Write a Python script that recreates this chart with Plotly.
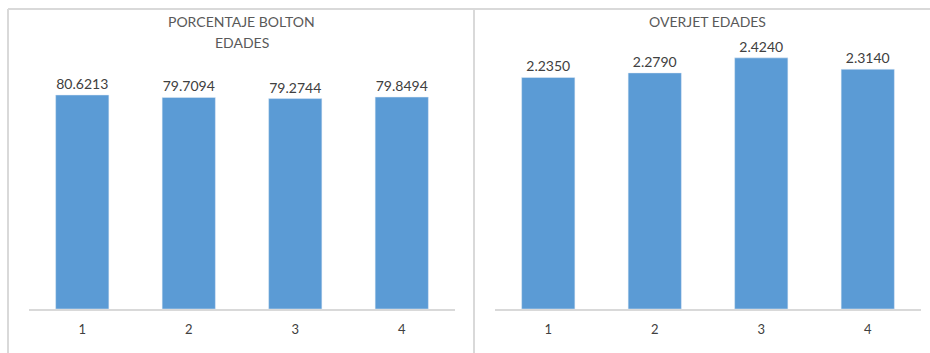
import plotly.graph_objects as go

categories = ["1", "2", "3", "4"]
bolton_values = [80.6213, 79.7094, 79.2744, 79.8494]
overjet_values = [2.2350, 2.2790, 2.4240, 2.3140]
bolton_labels = ["80.6213", "79.7094", "79.2744", "79.8494"]
overjet_labels = ["2.2350", "2.2790", "2.4240", "2.3140"]
title_left = ["PORCENTAJE BOLTON", "EDADES"]
title_right = "OVERJET EDADES"

W, H = 930, 353
BAR = "#5B9BD5"
GRID = "#d9d9d9"
FONT = "Lato"

def px(x):
    return x / W

def py(y):
    return 1 - y / H

fig = go.Figure()
fig.add_trace(go.Bar(x=categories, y=bolton_values, text=bolton_labels,
                     textposition="outside", cliponaxis=False,
                     textfont=dict(size=14, color="#404040", family=FONT),
                     marker=dict(color=BAR), xaxis="x", yaxis="y",
                     hoverinfo="skip"))
fig.add_trace(go.Bar(x=categories, y=overjet_values, text=overjet_labels,
                     textposition="outside", cliponaxis=False,
                     textfont=dict(size=14, color="#404040", family=FONT),
                     marker=dict(color=BAR), xaxis="x2", yaxis="y2",
                     hoverinfo="skip"))

ydom = [py(309), py(50)]
xcommon = dict(type="category", showgrid=False, zeroline=False,
               showline=True, linecolor=GRID, linewidth=1.5,
               ticks="outside", ticklen=8, tickcolor="rgba(0,0,0,0)",
               tickfont=dict(size=13, color="#404040", family=FONT))
ycommon = dict(visible=False, showgrid=False, zeroline=False)

fig.update_layout(
    width=W, height=H,
    margin=dict(l=0, r=0, t=0, b=0),
    paper_bgcolor="white", plot_bgcolor="white",
    showlegend=False, bargap=0.5,
    xaxis=dict(domain=[px(29), px(455)], anchor="y", **xcommon),
    yaxis=dict(domain=ydom, range=[0, 97.57], anchor="x", **ycommon),
    xaxis2=dict(domain=[px(495), px(921)], anchor="y2", **xcommon),
    yaxis2=dict(domain=ydom, range=[0, 2.50], anchor="x2", **ycommon),
    font=dict(family=FONT),
)

tfont = dict(size=14, color="#595959", family=FONT)
fig.add_annotation(x=px(242), y=py(21), xref="paper", yref="paper",
                   text=title_left[0], showarrow=False, font=tfont,
                   xanchor="center", yanchor="middle")
fig.add_annotation(x=px(242), y=py(42), xref="paper", yref="paper",
                   text=title_left[1], showarrow=False, font=tfont,
                   xanchor="center", yanchor="middle")
fig.add_annotation(x=px(707), y=py(21), xref="paper", yref="paper",
                   text=title_right, showarrow=False, font=tfont,
                   xanchor="center", yanchor="middle")

line = dict(color=GRID, width=2)
fig.add_shape(type="line", xref="paper", yref="paper",
              x0=px(8), x1=1, y0=py(9), y1=py(9), line=line)
fig.add_shape(type="line", xref="paper", yref="paper",
              x0=px(8), x1=px(8), y0=py(9), y1=0, line=line)
fig.add_shape(type="line", xref="paper", yref="paper",
              x0=px(474), x1=px(474), y0=py(9), y1=0, line=line)

fig.write_html("out.html")
